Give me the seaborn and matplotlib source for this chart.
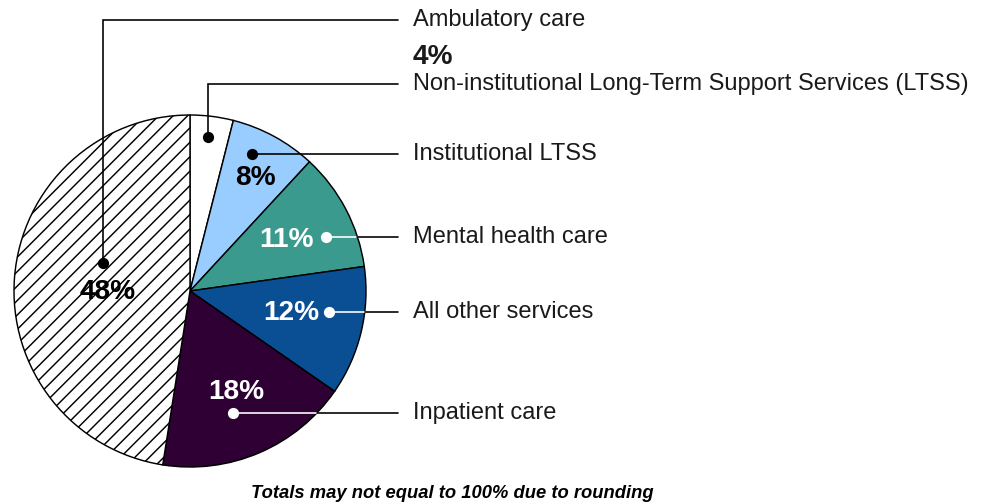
import numpy as np
import matplotlib
matplotlib.use("Agg")
import matplotlib.pyplot as plt
import seaborn as sns

# slices, clockwise from 12 o'clock
categories = ["Non-institutional Long-Term Support Services (LTSS)",
              "Institutional LTSS", "Mental health care",
              "All other services", "Inpatient care", "Ambulatory care"]
shares = [4, 8, 11, 12, 18, 48]
colors = ["#ffffff", "#99ccff", "#3b9a8e", "#0a4f94", "#2e0033", "#ffffff"]

sns.set_theme(style="white")
plt.rcParams["font.family"] = ["Liberation Sans", "DejaVu Sans"]
plt.rcParams["hatch.linewidth"] = 0.8

W, H, DPI = 988, 503, 130
fig = plt.figure(figsize=(W / DPI, H / DPI), dpi=DPI)
ax = fig.add_axes([0, 0, 1, 1])

cx, cy, R = 190, H - 291, 176
wedges, _ = ax.pie(shares, colors=colors, startangle=90, counterclock=False,
                   center=(cx, cy), radius=R,
                   wedgeprops=dict(edgecolor="black", linewidth=0.8))
wedges[-1].set_hatch("///")
ax.set_xlim(0, W)
ax.set_ylim(0, H)
ax.set_aspect("equal")
ax.axis("off")

def polar(ang, rf):
    a = np.deg2rad(ang)
    return cx + rf * R * np.cos(a), cy + rf * R * np.sin(a)

# dot position (angle, radius fraction) and percent-label position per slice
dot_pos = [(83.3, 0.88), (65.6, 0.855), (21.8, 0.83), (-8.5, 0.80), (-70.6, 0.735), (162.2, 0.52)]
pct_pos = [None, (59.9, 0.74), (28.0, 0.62), (-12.2, 0.59), (-65.5, 0.63), (180.7, 0.47)]
dark = [False, False, True, True, True, False]
elbow_y = {0: H - 84, 5: H - 20}

line_end = 398
text_x = 413
ink = "#1a1a1a"

for i, (cat, val) in enumerate(zip(categories, shares)):
    dx, dy = polar(*dot_pos[i])
    dcol = "white" if dark[i] else "black"
    if i in elbow_y:
        ey = elbow_y[i]
        ax.plot([dx, dx, line_end], [dy, ey, ey], color="black", lw=0.9,
                solid_joinstyle="miter")
        ty = ey
    else:
        ty = dy
        if dark[i]:
            edge_x = cx + np.sqrt(R ** 2 - (dy - cy) ** 2)
            ax.plot([dx, edge_x], [dy, dy], color="white", lw=0.9)
            ax.plot([edge_x, line_end], [dy, dy], color="black", lw=0.9)
        else:
            ax.plot([dx, line_end], [dy, dy], color="black", lw=0.9)
    ax.plot(dx, dy, "o", color=dcol, markersize=5.2)
    ax.text(text_x, ty, cat, fontsize=13.1, color=ink, ha="left", va="center")
    if pct_pos[i] is not None:
        px, py = polar(*pct_pos[i])
        ax.text(px, py, f"{val}%", fontsize=15.5, fontweight="bold",
                color="white" if dark[i] else "black", ha="center", va="center")

# small slice gets its percent in the label column
ax.text(text_x, H - 57, f"{shares[0]}%", fontsize=15.5, fontweight="bold",
        color=ink, ha="left", va="center")

ax.text(452, H - 493, "Totals may not equal to 100% due to rounding",
        fontsize=10.2, fontweight="bold", fontstyle="italic", color="black",
        ha="center", va="center")

fig.savefig("out.png", dpi=DPI)
